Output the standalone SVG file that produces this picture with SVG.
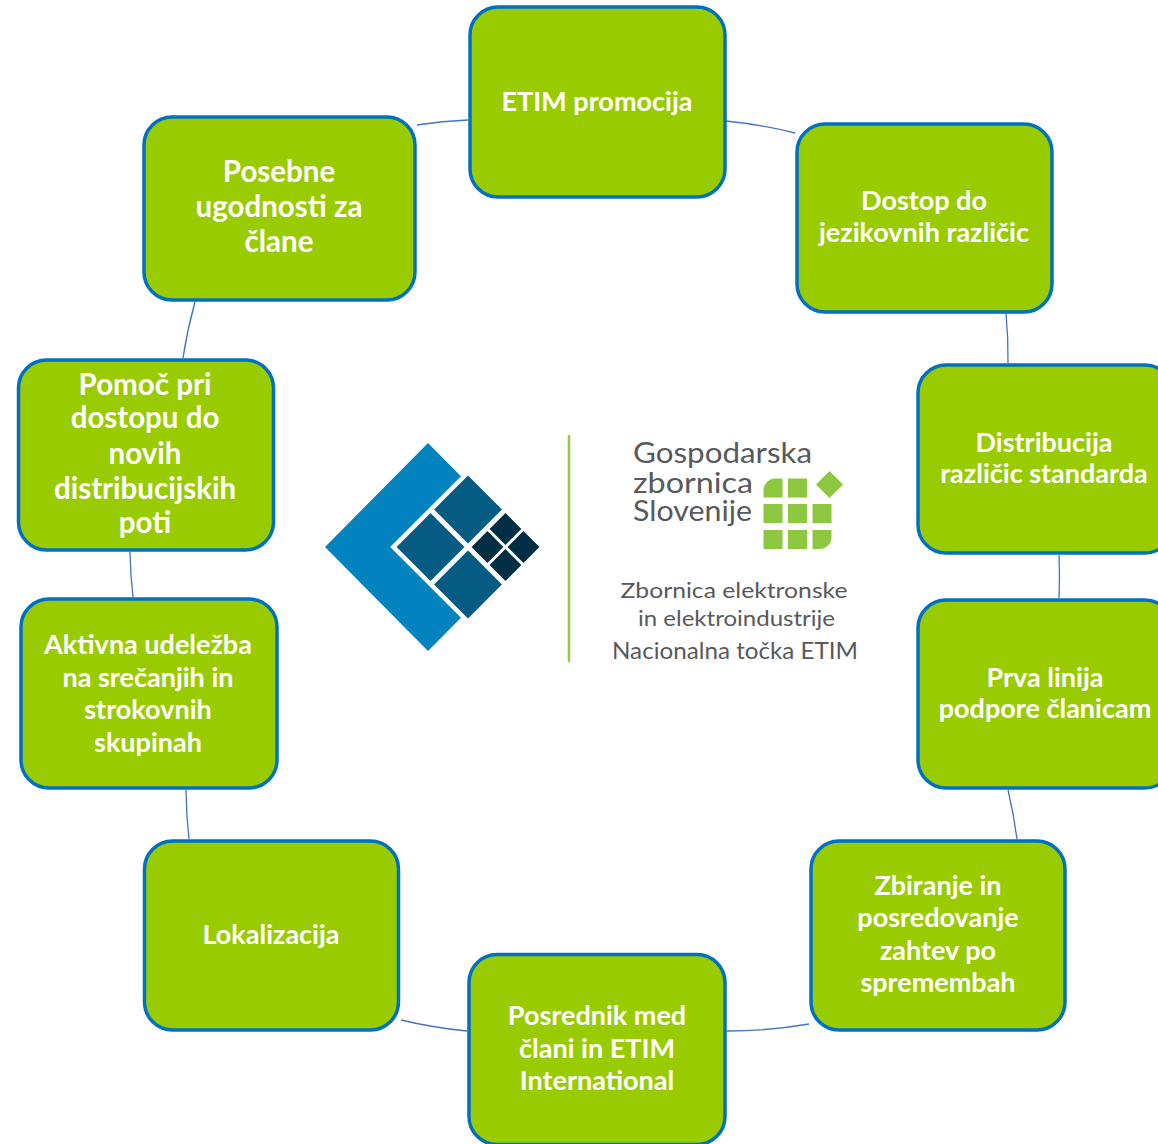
<svg xmlns="http://www.w3.org/2000/svg" width="1158" height="1144" viewBox="0 0 1158 1144">
<style>
.box{fill:#99CC00;stroke:#0070C0;stroke-width:3.5}
.lbl{fill:#ffffff;font-family:Lato,"Open Sans","Liberation Sans",sans-serif;font-weight:700;font-size:27px;text-anchor:middle}
.big{font-size:29.5px}
.conn{fill:none;stroke:#4472C4;stroke-width:1.3}
.gray{fill:#58595B;font-family:Lato,"Open Sans","Liberation Sans",sans-serif;font-weight:400}
.gz{fill:#8DC63F}
</style>
<rect width="1158" height="1144" fill="#ffffff"/>
<g id="connectors">
<path class="conn" d="M726,121 A475,475 0 0 1 795,133"/>
<path class="conn" d="M1006,313 A475,475 0 0 1 1008,363"/>
<path class="conn" d="M1059,555 A475,475 0 0 1 1059,598"/>
<path class="conn" d="M1008,790 A475,475 0 0 1 1017,839"/>
<path class="conn" d="M809,1024 A475,475 0 0 1 727,1031"/>
<path class="conn" d="M467,1031 A475,475 0 0 1 401,1020"/>
<path class="conn" d="M189,839 A475,475 0 0 1 186,790"/>
<path class="conn" d="M133,597 A475,475 0 0 1 130,552"/>
<path class="conn" d="M183,358 A475,475 0 0 1 195,302"/>
<path class="conn" d="M417,125 A475,475 0 0 1 468,120"/>
</g>
<g id="n-etim">
<rect class="box" x="470" y="7" width="255" height="190" rx="28"/>
<text class="lbl" x="597" y="111">ETIM promocija</text>
</g>
<g id="n-dostop">
<rect class="box" x="797" y="124" width="255" height="188" rx="28"/>
<text class="lbl" x="924" y="210">Dostop do</text>
<text class="lbl" x="924" y="242">jezikovnih različic</text>
</g>
<g id="n-distribucija">
<rect class="box" x="918" y="365" width="255" height="188" rx="28"/>
<text class="lbl" x="1044" y="452">Distribucija</text>
<text class="lbl" x="1044" y="483">različic standarda</text>
</g>
<g id="n-prva">
<rect class="box" x="918" y="600" width="255" height="188" rx="28"/>
<text class="lbl" x="1045" y="687">Prva linija</text>
<text class="lbl" x="1045" y="718">podpore članicam</text>
</g>
<g id="n-zbiranje">
<rect class="box" x="811" y="841" width="254" height="189" rx="28"/>
<text class="lbl" x="938" y="895">Zbiranje in</text>
<text class="lbl" x="938" y="927">posredovanje</text>
<text class="lbl" x="938" y="960">zahtev po</text>
<text class="lbl" x="938" y="992">spremembah</text>
</g>
<g id="n-posrednik">
<rect class="box" x="469" y="954.5" width="256" height="190" rx="28"/>
<text class="lbl" x="597" y="1025">Posrednik med</text>
<text class="lbl" x="597" y="1058">člani in ETIM</text>
<text class="lbl" x="597" y="1090">International</text>
</g>
<g id="n-lokalizacija">
<rect class="box" x="144.5" y="841" width="254" height="189" rx="28"/>
<text class="lbl" x="271" y="944">Lokalizacija</text>
</g>
<g id="n-aktivna">
<rect class="box" x="21" y="599" width="256" height="189" rx="28"/>
<text class="lbl" x="148" y="654">Aktivna udeležba</text>
<text class="lbl" x="148" y="687">na srečanjih in</text>
<text class="lbl" x="148" y="719">strokovnih</text>
<text class="lbl" x="148" y="752">skupinah</text>
</g>
<g id="n-pomoc">
<rect class="box" x="18.5" y="360" width="255" height="190" rx="28"/>
<text class="lbl big" x="145" y="395">Pomoč pri</text>
<text class="lbl big" x="145" y="428">dostopu do</text>
<text class="lbl big" x="145" y="464">novih</text>
<text class="lbl big" x="145" y="499">distribucijskih</text>
<text class="lbl big" x="145" y="533">poti</text>
</g>
<g id="n-posebne">
<rect class="box" x="144" y="117" width="271" height="183" rx="28"/>
<text class="lbl big" x="279" y="182">Posebne</text>
<text class="lbl big" x="279" y="217">ugodnosti za</text>
<text class="lbl big" x="279" y="252">člane</text>
</g>
<g id="etim-logo">
<polygon points="428,443 531,547 428,651 325,547" fill="#0083BF"/>
<g transform="translate(468,547) rotate(45)">
<rect x="-55" y="-55" width="110" height="110" fill="#ffffff"/>
<rect x="-50.5" y="-50.5" width="48" height="48" fill="#055B82"/>
<rect x="-50.5" y="2.5" width="48" height="48" fill="#055B82"/>
<rect x="2.5" y="2.5" width="48" height="48" fill="#055B82"/>
<rect x="2.5" y="-50.5" width="22.5" height="22.5" fill="#002E45"/>
<rect x="28" y="-50.5" width="22.5" height="22.5" fill="#002E45"/>
<rect x="2.5" y="-25" width="22.5" height="22.5" fill="#002E45"/>
<rect x="28" y="-25" width="22.5" height="22.5" fill="#002E45"/>
</g>
</g>
<g id="gzs-logo">
<line x1="569" y1="435" x2="569" y2="662" stroke="#9BC64B" stroke-width="2.5"/>
<text class="gray" x="633" y="463" font-size="28" textLength="179" lengthAdjust="spacingAndGlyphs">Gospodarska</text>
<text class="gray" x="633" y="493" font-size="28" textLength="120" lengthAdjust="spacingAndGlyphs">zbornica</text>
<text class="gray" x="633" y="521" font-size="28" textLength="119" lengthAdjust="spacingAndGlyphs">Slovenije</text>
<path class="gz" d="M775.5,478.5 H782.5 V497.5 H763.5 V490.5 A12,12 0 0 1 775.5,478.5 Z"/>
<rect class="gz" x="788" y="478.5" width="19" height="19"/>
<polygon class="gz" points="829.5,471 843,484.5 829.5,498 816,484.5"/>
<rect class="gz" x="763.5" y="504" width="19" height="19"/>
<rect class="gz" x="788" y="504" width="19" height="19"/>
<rect class="gz" x="812.5" y="504" width="19" height="19"/>
<rect class="gz" x="763.5" y="530" width="19" height="19"/>
<rect class="gz" x="788" y="530" width="19" height="19"/>
<path class="gz" d="M812.5,530 H831.5 V537 A12,12 0 0 1 819.5,549 H812.5 Z"/>
<text class="gray" x="734" y="598" font-size="22" text-anchor="middle" textLength="227" lengthAdjust="spacingAndGlyphs">Zbornica elektronske</text>
<text class="gray" x="736.5" y="626" font-size="22" text-anchor="middle" textLength="197" lengthAdjust="spacingAndGlyphs">in elektroindustrije</text>
<text class="gray" x="735" y="659" font-size="23" text-anchor="middle" textLength="246" lengthAdjust="spacingAndGlyphs">Nacionalna točka ETIM</text>
</g>
</svg>
